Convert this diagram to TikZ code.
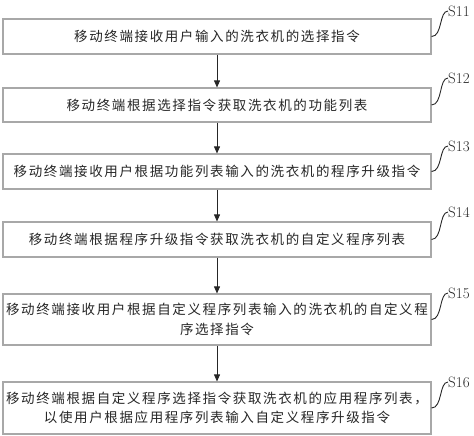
\documentclass[tikz,border=0pt]{standalone}
\usepackage{fontspec}
\usetikzlibrary{arrows.meta}
\newfontfamily\cjk[LetterSpace=12]{Noto Sans CJK SC}
\definecolor{boxline}{HTML}{A8A8A8}
\definecolor{txt}{HTML}{262626}
\tikzset{
  stepbox/.style={draw=boxline, line width=1.1bp, minimum width=428bp, inner sep=0pt,
    align=center, font=\cjk\fontsize{13.5bp}{19.5bp}\selectfont, text=txt},
  flow/.style={draw=black!85, line width=0.8bp, -{Triangle[width=6bp,length=7bp]}},
  steplabel/.style={anchor=west, inner sep=0pt, font=\fontsize{15bp}{17bp}\selectfont, text=txt},
  squig/.style={draw=black!85, line width=0.9bp}
}
\begin{document}
\begin{tikzpicture}[x=1bp,y=-1bp]
\useasboundingbox (0,0) rectangle (474,436);
\node[stepbox, minimum height=35bp] (b1) at (217,36.5) {移动终端接收用户输入的洗衣机的选择指令};
\node[stepbox, minimum height=34bp] (b2) at (217,105) {移动终端根据选择指令获取洗衣机的功能列表};
\node[stepbox, minimum height=35bp] (b3) at (217,171.5) {移动终端接收用户根据功能列表输入的洗衣机的程序升级指令};
\node[stepbox, minimum height=35bp] (b4) at (217,239.5) {移动终端根据程序升级指令获取洗衣机的自定义程序列表};
\node[stepbox, minimum height=51bp] (b5) at (217,319.5) {移动终端接收用户根据自定义程序列表输入的洗衣机的自定义程\\序选择指令};
\node[stepbox, minimum height=52bp] (b6) at (217,408) {移动终端根据自定义程序选择指令获取洗衣机的应用程序列表，\\以使用户根据应用程序列表输入自定义程序升级指令};

\node[steplabel] (l1) at (448,11) {S11};
\node[steplabel] (l2) at (448,78) {S12};
\node[steplabel] (l3) at (448,146) {S13};
\node[steplabel] (l4) at (448,212) {S14};
\node[steplabel] (l5) at (448,293) {S15};
\node[steplabel] (l6) at (448,382) {S16};

\draw[flow] (b1) -- (b2);
\draw[flow] (b2) -- (b3);
\draw[flow] (b3) -- (b4);
\draw[flow] (b4) -- (b5);
\draw[flow] (b5) -- (b6);

\foreach \i in {1,...,6}{
  \draw[squig] (b\i.east) .. controls +(11,0) and +(-9,0) .. (l\i.west);
}
\end{tikzpicture}
\end{document}
